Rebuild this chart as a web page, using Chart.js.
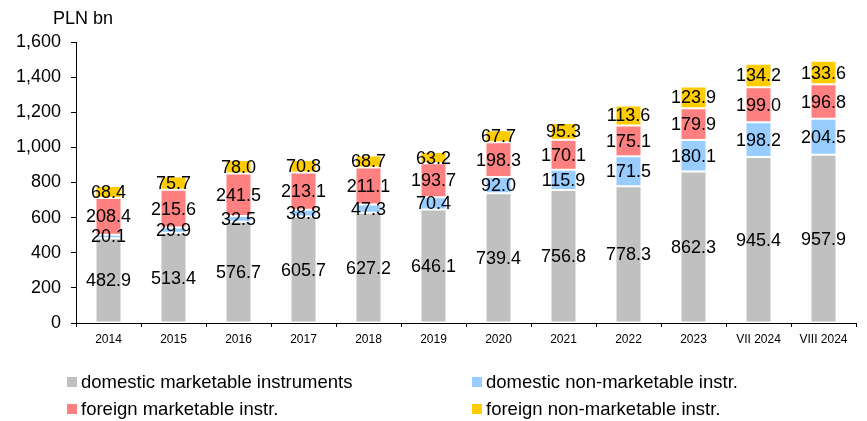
<!DOCTYPE html>
<html><head><meta charset="utf-8">
<script src="https://cdn.jsdelivr.net/npm/chart.js@4/dist/chart.umd.min.js"></script>
<style>
html,body{margin:0;padding:0;background:#fff;}
#wrap{position:relative;width:867px;height:421px;}
#legend{position:absolute;left:0;top:0;width:867px;height:421px;pointer-events:none;font-family:"Liberation Sans",Arial,sans-serif;font-size:18.5px;color:#000;}
.li{position:absolute;display:flex;align-items:center;white-space:nowrap;height:20px;}
.sw{width:10px;height:10px;margin-right:4px;}
#unit{position:absolute;left:53px;top:8px;font-family:"Liberation Sans",Arial,sans-serif;font-size:18px;}
</style></head>
<body><div id="wrap"><canvas id="c" width="867" height="421"></canvas><div id="unit">PLN bn</div><div id="legend"></div></div>
<script>
const categories = ["2014","2015","2016","2017","2018","2019","2020","2021","2022","2023","VII 2024","VIII 2024"];
const domesticMarketable = [482.9,513.4,576.7,605.7,627.2,646.1,739.4,756.8,778.3,862.3,945.4,957.9];
const domesticNonMarketable = [20.1,29.9,32.5,38.8,47.3,70.4,92.0,115.9,171.5,180.1,198.2,204.5];
const foreignMarketable = [208.4,215.6,241.5,213.1,211.1,193.7,198.3,170.1,175.1,179.9,199.0,196.8];
const foreignNonMarketable = [68.4,75.7,78.0,70.8,68.7,63.2,67.7,95.3,113.6,123.9,134.2,133.6];
const seriesNames = ["domestic marketable instruments","domestic non-marketable instr.","foreign marketable instr.","foreign non-marketable instr."];
const yTicks = [0,200,400,600,800,1000,1200,1400,1600];

const colors = ["#C0C0C0","#99CCFF","#FF8080","#FFCC00"];
const seriesData = [domesticMarketable,domesticNonMarketable,foreignMarketable,foreignNonMarketable];

const FONT = '"Liberation Sans", Arial, sans-serif';

const labelPlugin = {
  id:'segLabels',
  afterDatasetsDraw(chart){
    const ctx = chart.ctx;
    ctx.save();
    ctx.font = '18px ' + FONT;
    ctx.fillStyle = '#000';
    ctx.textAlign = 'center';
    ctx.textBaseline = 'middle';
    chart.data.datasets.forEach((ds,i)=>{
      const meta = chart.getDatasetMeta(i);
      meta.data.forEach((bar,j)=>{
        const y = (bar.y + bar.base)/2;
        ctx.fillText(ds.data[j].toFixed(1), bar.x, y+1);
      });
    });
    ctx.restore();
  }
};

const chart = new Chart(document.getElementById('c'),{
  type:'bar',
  data:{
    labels:categories,
    datasets:seriesData.map((d,i)=>({
      label:seriesNames[i], data:d, backgroundColor:colors[i],
      borderColor:'#ffffff', borderWidth:1, borderSkipped:false,
      barPercentage:0.8, categoryPercentage:0.5
    }))
  },
  options:{
    responsive:false, animation:false,
    layout:{padding:{top:42,right:11,left:0,bottom:0}},
    plugins:{legend:{display:false},tooltip:{enabled:false}},
    scales:{
      x:{
        stacked:true,
        grid:{offset:true,drawOnChartArea:false,drawTicks:true,tickLength:4,color:'#000',lineWidth:1},
        border:{color:'#000',width:1},
        ticks:{color:'#000',font:{family:FONT,size:12},padding:5,maxRotation:0},
        afterFit(s){s.height=98;}
      },
      y:{
        stacked:true, min:0, max:1600,
        afterBuildTicks(s){s.ticks = yTicks.map(v=>({value:v}));},
        grid:{drawOnChartArea:false,drawTicks:true,tickLength:5,color:'#000'},
        border:{color:'#000',width:1},
        ticks:{color:'#000',font:{family:FONT,size:18},padding:10,
          callback:v=>v.toLocaleString('en-US')},
        afterFit(s){s.width=76;}
      }
    }
  },
  plugins:[labelPlugin]
});

const leg = document.getElementById('legend');
const pos = [[67,372],[472,372],[67,399],[472,399]];
seriesNames.forEach((n,i)=>{
  const d = document.createElement('div');
  d.className='li';
  d.style.left=pos[i][0]+'px'; d.style.top=pos[i][1]+'px';
  d.innerHTML='<span class="sw" style="background:'+colors[i]+'"></span><span>'+n+'</span>';
  leg.appendChild(d);
});
</script></body></html>
